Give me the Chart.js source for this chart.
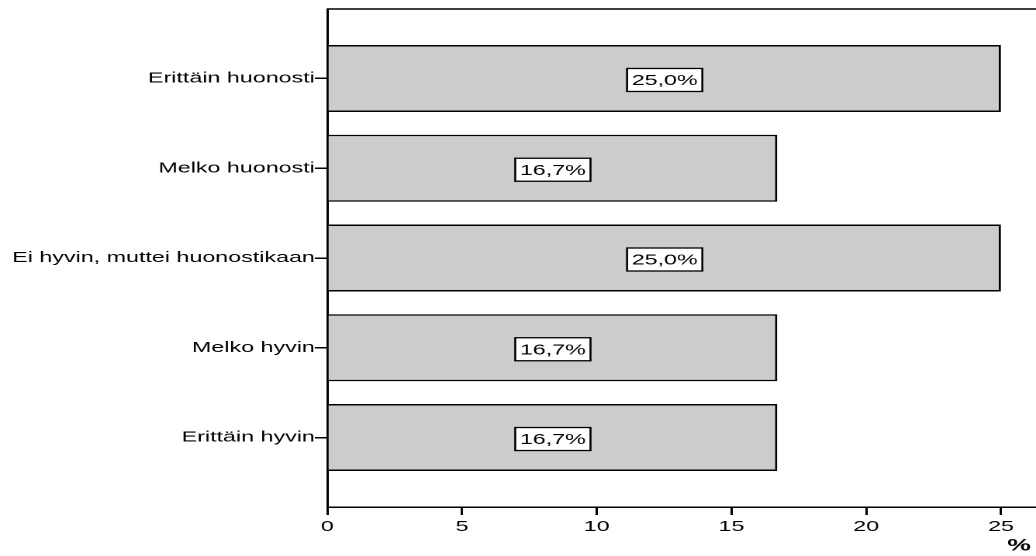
<!DOCTYPE html>
<html>
<head>
<meta charset="utf-8">
<title>Vastausten jakauma</title>
<script src="https://cdn.jsdelivr.net/npm/chart.js@4.4.1/dist/chart.umd.min.js"></script>
<style>
  html, body { margin: 0; padding: 0; background: #fff; overflow: hidden; }
  /* the original chart is stretched sideways, so the canvas is too */
  #wrap { width: 668px; height: 556px; transform: scaleX(1.5509); transform-origin: 0 0; }
</style>
</head>
<body>
<div id="wrap"><canvas id="chart" width="668" height="556"></canvas></div>
<script>
const categories = [
  "Erittäin huonosti",
  "Melko huonosti",
  "Ei hyvin, muttei huonostikaan",
  "Melko hyvin",
  "Erittäin hyvin"
];
const percents = [25.0, 16.7, 25.0, 16.7, 16.7];
const xTicks = [0, 5, 10, 15, 20, 25];
const xMax = 26.3;
const xTitle = "%\u2009";

const FONT = '"Liberation Sans", Arial, sans-serif';

const boxLabels = {
  id: "boxLabels",
  afterDatasetsDraw(chart) {
    const ctx = chart.ctx;
    const meta = chart.getDatasetMeta(0);
    ctx.save();
    ctx.font = "15px " + FONT;
    ctx.textAlign = "center";
    ctx.textBaseline = "middle";
    meta.data.forEach((bar, i) => {
      const text = percents[i].toFixed(1).replace(".", ",") + "%";
      const cx = (bar.x + bar.base) / 2;
      const cy = bar.y + 1.5;
      const w = ctx.measureText(text).width + 6;
      const h = 23;
      ctx.fillStyle = "#fff";
      ctx.fillRect(cx - w / 2, cy - h / 2, w, h);
      ctx.lineWidth = 1.3;
      ctx.strokeStyle = "#000";
      ctx.strokeRect(cx - w / 2, cy - h / 2, w, h);
      ctx.fillStyle = "#000";
      ctx.fillText(text, cx, cy + 1);
    });
    ctx.restore();
  }
};

const topLine = {
  id: "topLine",
  afterDraw(chart) {
    const { ctx, chartArea: a } = chart;
    ctx.save();
    ctx.strokeStyle = "#000";
    ctx.lineWidth = 1.5;
    ctx.beginPath();
    ctx.moveTo(a.left, a.top);
    ctx.lineTo(a.right, a.top);
    ctx.stroke();
    ctx.restore();
  }
};

new Chart(document.getElementById("chart"), {
  type: "bar",
  data: {
    datasets: [{
      data: percents.map((v, i) => ({ x: v, y: i })),
      backgroundColor: "#cccccc",
      borderColor: "#000",
      borderWidth: 1.5,
      barPercentage: 0.746,
      categoryPercentage: 1
    }]
  },
  options: {
    indexAxis: "y",
    responsive: false,
    animation: false,
    devicePixelRatio: 2,
    layout: { padding: { top: 9, left: 0, right: 0, bottom: 0 } },
    plugins: { legend: { display: false }, tooltip: { enabled: false } },
    scales: {
      x: {
        type: "linear",
        min: 0,
        max: xMax,
        afterBuildTicks: axis => { axis.ticks = xTicks.map(v => ({ value: v })); },
        afterFit: axis => { axis.height = 49; },
        grid: { drawOnChartArea: false, drawTicks: true, tickLength: 8, color: "#000", lineWidth: 1.5 },
        border: { display: true, color: "#000", width: 1.5 },
        ticks: { color: "#000", padding: 3, font: { family: FONT, size: 15 }, maxRotation: 0 },
        title: {
          display: true,
          text: xTitle,
          align: "end",
          color: "#000",
          font: { family: FONT, size: 17, weight: "bold" },
          padding: { top: 0, bottom: 0 }
        }
      },
      y: {
        type: "linear",
        reverse: true,
        offset: false,
        min: -0.774,
        max: 4.774,
        afterBuildTicks: axis => { axis.ticks = categories.map((c, i) => ({ value: i })); },
        afterFit: axis => { axis.width = 211; },
        grid: { offset: false, drawOnChartArea: false, drawTicks: true, tickLength: 8, color: "#000", lineWidth: 1.5 },
        border: { display: true, color: "#000", width: 1.5 },
        ticks: {
          color: "#000",
          padding: 0,
          autoSkip: false,
          font: { family: FONT, size: 15 },
          callback: v => categories[v] || ""
        }
      }
    }
  },
  plugins: [boxLabels, topLine]
});
</script>
</body>
</html>
